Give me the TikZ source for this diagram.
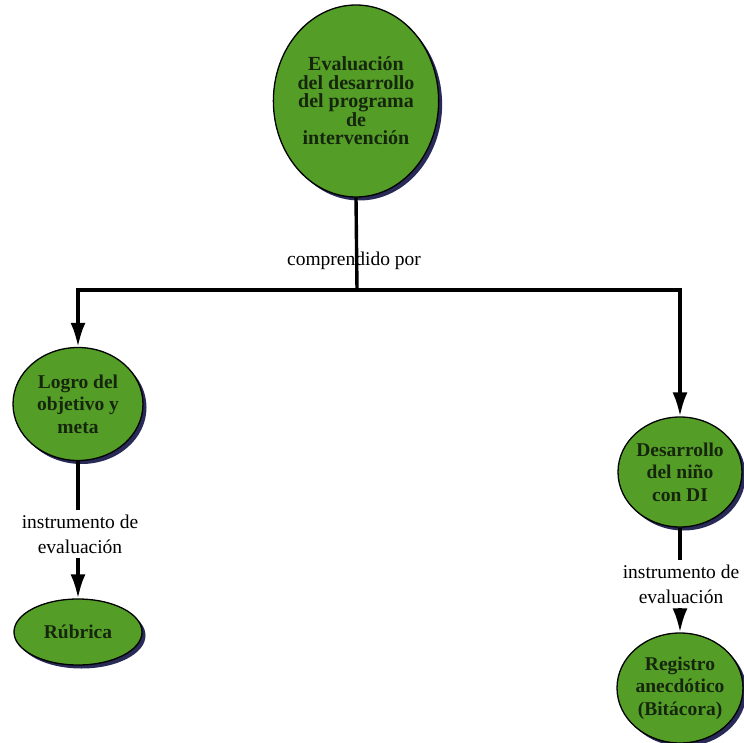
\documentclass[tikz,border=0pt]{standalone}
\usepackage{fontspec}
\setmainfont{Liberation Serif}
\usetikzlibrary{shapes.geometric,arrows.meta,shadows}
\definecolor{nodegreen}{RGB}{84,158,40}
\definecolor{nodetext}{RGB}{22,38,12}
\definecolor{shadownavy}{RGB}{40,42,88}
\tikzset{
  bubble/.style={ellipse, draw=black, line width=1.3pt, fill=nodegreen, inner sep=0pt,
    align=center, text=nodetext, font=\bfseries\fontsize{19.5}{22.5}\selectfont,
    drop shadow={shadow xshift=3.5pt, shadow yshift=-3.5pt, fill=shadownavy, opacity=1}},
  linklabel/.style={align=center, inner sep=5pt, outer sep=0pt, font=\fontsize{19.5}{25}\selectfont},
  conn/.style={line width=3.4pt, draw=black},
  arr/.style={conn, -{Latex[length=24pt,width=15pt]}}
}
\begin{document}
\begin{tikzpicture}[x=1pt,y=-1pt]
\useasboundingbox (0,0) rectangle (744,743);
% nodes
\node[bubble, minimum width=158pt, minimum height=192pt, font=\bfseries\fontsize{20}{18.5}\selectfont] (top) at (356,101)
  {Evaluación\\del desarrollo\\del programa\\de\\intervención};
\node[bubble, minimum width=130pt, minimum height=113pt] (logro) at (78,404)
  {Logro del\\objetivo y\\meta};
\node[bubble, minimum width=128pt, minimum height=66pt] (rubrica) at (78,632) {Rúbrica};
\node[bubble, minimum width=124pt, minimum height=110pt] (desa) at (680,472)
  {Desarrollo\\del niño\\con DI};
\node[bubble, minimum width=126pt, minimum height=110pt] (regi) at (680,688)
  {Registro\\anecdótico\\(Bitácora)};
% labels
\node[linklabel] (lcomp) at (354,261) {comprendido por};
\node[linklabel] (lizq) at (80,534) {instrumento de\\evaluación};
\node[linklabel] (lder) at (681,584) {instrumento de\\evaluación};
% hub coordinates
\coordinate (hub) at (357,290);
\coordinate (hl) at (78,290);
\coordinate (hr) at (680,290);
% connectors
\draw[conn] (top.south) -- (hub);
\draw[conn, line cap=rect] (hl) -- (hr);
\draw[arr] (hl) -- (logro.north);
\draw[arr] (hr) -- (desa.north);
\draw[conn] (logro.south) -- (logro.south |- lizq.north);
\draw[arr] (logro.south |- lizq.south) -- (rubrica.north);
\draw[conn] (desa.south) -- (desa.south |- lder.north);
\draw[arr] (desa.south |- lder.south) -- (regi.north);
\end{tikzpicture}
\end{document}
